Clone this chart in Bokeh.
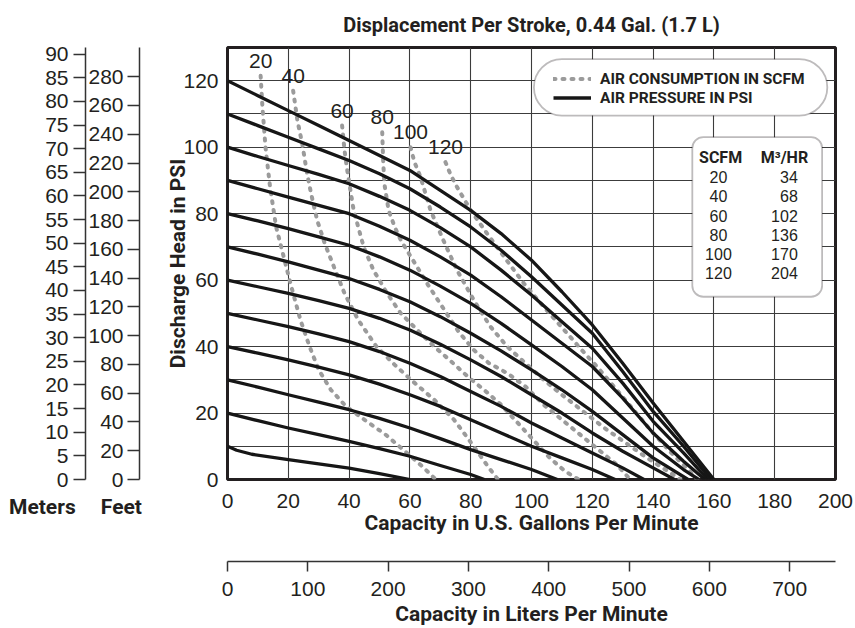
from bokeh.plotting import figure
from bokeh.models import (Range1d, LinearAxis, FixedTicker, BoxAnnotation, Label,
                          Legend, LegendItem, ColumnDataSource)
from bokeh.core.properties import value
from bokeh.embed import file_html
from bokeh.resources import INLINE

BOLD = "Roboto"
REG = "Liberation Sans"
INK = "#231f20"
GRAY = "#9b9b9b"

TITLE = "Displacement Per Stroke, 0.44 Gal. (1.7 L)"

# ---------------- tick values ----------------
gpm_ticks = [0, 20, 40, 60, 80, 100, 120, 140, 160, 180, 200]
psi_ticks = [0, 20, 40, 60, 80, 100, 120]
psi_grid = [0, 10, 20, 30, 40, 50, 60, 70, 80, 90, 100, 110, 120, 130]
feet_ticks = [0, 20, 40, 60, 80, 100, 120, 140, 160, 180, 200, 220, 240, 260, 280]
meter_ticks = [0, 5, 10, 15, 20, 25, 30, 35, 40, 45, 50, 55, 60, 65, 70, 75, 80, 85, 90]
lpm_ticks = [0, 100, 200, 300, 400, 500, 600, 700]

PSI_TO_FT = 2.31
PSI_TO_M = 0.7031
GAL_TO_L = 3.7854

# ---------------- air pressure curves (solid), GPM vs discharge PSI ----------------
p10_gpm = [0, 3, 8, 20, 30, 40, 50, 60]
p10_psi = [10, 8.8, 7.6, 6, 4.7, 3.4, 1.8, 0]
p20_gpm = [0, 10, 20, 30, 40, 50, 60, 70, 80, 84.5]
p20_psi = [20, 17.7, 15.5, 13.5, 11.5, 9.3, 7, 4.2, 1.5, 0]
p30_gpm = [0, 10, 20, 30, 40, 50, 60, 70, 80, 90, 100, 108.5]
p30_psi = [30, 27.8, 25.5, 23.3, 21, 18.4, 15.5, 12.3, 9, 6, 3, 0]
p40_gpm = [0, 10, 20, 30, 40, 50, 60, 70, 80, 90, 100, 110, 120, 127.5]
p40_psi = [40, 38, 36, 33.8, 31.5, 28.7, 25.5, 22, 18, 14, 10, 6.5, 3, 0]
p50_gpm = [0, 10, 20, 30, 40, 50, 60, 70, 80, 90, 100, 110, 120, 130, 137]
p50_psi = [50, 48, 46, 43.8, 41.5, 38.5, 35, 31, 26.5, 22, 17, 12.5, 8, 3.5, 0]
p60_gpm = [0, 10, 20, 30, 40, 50, 60, 70, 80, 90, 100, 110, 120, 130, 140, 147]
p60_psi = [60, 58, 56, 53.8, 51.5, 48.5, 45, 40.7, 36, 31, 25.5, 20, 14, 8.5, 3.5, 0]
p70_gpm = [0, 10, 20, 30, 40, 50, 60, 70, 80, 90, 100, 110, 120, 130, 140, 151.5]
p70_psi = [70, 67.8, 65.5, 63, 60.5, 57.2, 53.5, 49, 44, 38.7, 33, 27, 20.5, 13.5, 6.5, 0]
p80_gpm = [0, 10, 20, 30, 40, 50, 60, 70, 80, 90, 100, 110, 120, 130, 140, 150, 155]
p80_psi = [80, 77.8, 75.5, 73, 70.5, 67, 63, 58.2, 53, 47, 40.5, 34, 27, 18.5, 10, 3, 0]
p90_gpm = [0, 10, 20, 30, 40, 50, 60, 70, 80, 90, 100, 110, 120, 130, 140, 150, 157]
p90_psi = [90, 87.5, 85, 82.5, 80, 76.2, 72, 67, 61.5, 55, 48, 41, 34, 24.5, 14, 5.5, 0]
p100_gpm = [0, 10, 20, 30, 40, 50, 60, 70, 80, 90, 100, 110, 120, 130, 140, 150, 158]
p100_psi = [100, 97.2, 94.5, 91.8, 89, 85.2, 81, 75.8, 70, 63, 55.5, 47.5, 39.5, 29, 17.5, 8, 0]
p110_gpm = [0, 10, 20, 30, 40, 50, 60, 70, 80, 90, 100, 110, 120, 130, 140, 150, 159]
p110_psi = [110, 106.5, 103, 99.5, 96, 92, 87.5, 82, 76, 69, 61, 52.5, 44, 32.5, 20.5, 10, 0]
p120_gpm = [0, 10, 20, 30, 40, 50, 60, 70, 80, 90, 100, 110, 120, 130, 140, 150, 160]
p120_psi = [120, 115.5, 111, 106.5, 102, 97.5, 93, 87, 81, 74, 66, 56.5, 46.5, 35, 23, 11.5, 0]

# ---------------- air consumption curves (dashed), GPM vs discharge PSI ----------------
s20_gpm = [10.9, 11.5, 12.5, 14, 16, 18.5, 21, 24, 27, 30, 34, 39, 45, 52, 59, 64, 68.5]
s20_psi = [121.5, 112, 100, 88, 76, 67, 58, 48, 40, 33, 27, 22, 18, 13.5, 8, 4, 0]
s40_gpm = [21.6, 23, 24.6, 26, 27.5, 29.5, 32, 35, 38.5, 43, 49, 55, 61, 68, 74.5, 79, 82.5, 86, 89]
s40_psi = [117, 108, 101, 93, 86, 78, 71, 64, 56, 48, 40, 34.5, 29.5, 24, 18, 12.5, 8, 3.5, 0]
s60_gpm = [37.7, 38.5, 39.4, 41.5, 44.8, 48, 52.5, 57, 63.5, 68, 73, 79, 85, 90, 95, 100, 106, 111, 115.5]
s60_psi = [106.5, 99, 93, 81, 70, 63, 56, 50, 44, 40, 36, 31, 26.5, 22.5, 17.5, 12.5, 6.5, 2.5, 0]
s80_gpm = [50.9, 51.2, 51.6, 53, 55, 57, 61, 66, 71, 76, 81, 86, 92, 98, 104, 110, 116, 122, 128, 132.5]
s80_psi = [104.5, 96, 89, 81, 76, 72, 66, 58.5, 51.5, 44.5, 39, 35, 32, 28, 22.5, 18, 13.5, 9, 4.5, 0]
s100_gpm = [60.2, 61.5, 63.5, 66.8, 71, 75.5, 81, 86.5, 92, 98, 104, 110, 117, 124, 131, 138, 144, 149]
s100_psi = [100, 95.5, 91, 81, 72, 63, 54, 46, 40, 35, 30, 25.5, 20.5, 15.5, 11, 6.5, 3, 0]
s120_gpm = [71.7, 73.5, 75.5, 80, 85.4, 91, 97.5, 104, 111.7, 116, 122, 128, 134, 140, 146, 151, 154.5]
s120_psi = [95.5, 91.5, 88, 81, 74, 67, 59, 52, 44, 39.5, 33.5, 27, 20.5, 14, 8, 3.5, 0]

# ---------------- conversion table ----------------
table_scfm = [20, 40, 60, 80, 100, 120]
table_m3hr = [34, 68, 102, 136, 170, 204]

pressure_curves = [(p10_gpm, p10_psi), (p20_gpm, p20_psi), (p30_gpm, p30_psi), (p40_gpm, p40_psi),
                   (p50_gpm, p50_psi), (p60_gpm, p60_psi), (p70_gpm, p70_psi), (p80_gpm, p80_psi),
                   (p90_gpm, p90_psi), (p100_gpm, p100_psi), (p110_gpm, p110_psi), (p120_gpm, p120_psi)]
air_curves = [(s20_gpm, s20_psi), (s40_gpm, s40_psi), (s60_gpm, s60_psi),
              (s80_gpm, s80_psi), (s100_gpm, s100_psi), (s120_gpm, s120_psi)]

# ---------------- figure ----------------
p = figure(width=855, height=628, x_range=Range1d(0, 200), y_range=Range1d(0, 130),
           output_backend="svg", toolbar_location=None, title=TITLE,
           min_border_left=227, min_border_right=20, min_border_top=47, min_border_bottom=148)
p.background_fill_color = "white"
p.border_fill_color = "white"
p.outline_line_color = INK
p.outline_line_width = 3

p.title.align = "center"
p.title.text_font = BOLD
p.title.text_font_style = "bold"
p.title.text_font_size = "20px"
p.title.text_color = INK
p.title.standoff = 21

p.extra_y_ranges = {"ft": Range1d(0, 130 * PSI_TO_FT), "m": Range1d(0, 130 * PSI_TO_M)}
p.extra_x_ranges = {"L": Range1d(0, 200 * GAL_TO_L)}

# grids
p.xgrid.ticker = FixedTicker(ticks=gpm_ticks)
p.ygrid.ticker = FixedTicker(ticks=psi_grid)
for g in (p.xgrid, p.ygrid):
    g.grid_line_color = "#3c3c3c"
    g.grid_line_width = 1.1


def style_numbers(ax, size="21px"):
    ax.major_label_text_font = REG
    ax.major_label_text_font_size = size
    ax.major_label_text_color = INK
    ax.minor_tick_line_color = None


def style_title(ax):
    ax.axis_label_text_font = BOLD
    ax.axis_label_text_font_style = "bold"
    ax.axis_label_text_font_size = "21px"
    ax.axis_label_text_color = INK


def name_label(txt, gx):
    # names under the left scales; living in a side panel keeps them from being clipped
    return Label(x=gx, y=-8.4, text=txt, text_align="center", text_baseline="middle",
                 text_font=BOLD, text_font_style="bold", text_font_size="21px", text_color=INK)


# main x axis (gallons)
xa = p.xaxis[0]
xa.ticker = FixedTicker(ticks=gpm_ticks)
xa.axis_line_color = None
xa.major_tick_line_color = None
xa.major_tick_out = 0
xa.major_tick_in = 0
xa.major_label_standoff = 14
style_numbers(xa)
xa.axis_label = "Capacity in U.S. Gallons Per Minute"
xa.axis_label_standoff = 0
style_title(xa)

# main y axis (psi)
ya = p.yaxis[0]
ya.ticker = FixedTicker(ticks=psi_ticks)
ya.axis_line_color = None
ya.major_tick_line_color = None
ya.major_tick_out = 0
ya.major_tick_in = 0
ya.major_label_standoff = 9
style_numbers(ya)
ya.axis_label = "Discharge Head in PSI"
ya.axis_label_standoff = -10
style_title(ya)


def spacer(gap, at, **kw):
    # one blank white tick whose length only reserves room between stacked scales
    return LinearAxis(ticker=FixedTicker(ticks=[at]), axis_line_color=None,
                      major_tick_line_color="white", major_tick_line_width=1,
                      minor_tick_line_color=None, major_tick_out=gap, major_tick_in=0,
                      minor_tick_out=0, minor_tick_in=0, major_label_standoff=0,
                      major_label_overrides={at: ""}, major_label_text_font_size="1px", **kw)


def scale_axis(ax, ticks, tick_len, standoff):
    ax.ticker = FixedTicker(ticks=ticks)
    ax.axis_line_color = "#333333"
    ax.axis_line_width = 1.5
    ax.major_tick_line_color = "#333333"
    ax.major_tick_line_width = 1.5
    ax.major_tick_out = tick_len
    ax.major_tick_in = 0
    ax.major_label_standoff = standoff
    style_numbers(ax)


p.add_layout(spacer(24, 0), "left")

ft_axis = LinearAxis(y_range_name="ft")
scale_axis(ft_axis, feet_ticks, 12, 4)
p.add_layout(ft_axis, "left")

m_axis = LinearAxis(y_range_name="m")
scale_axis(m_axis, meter_ticks, 12, 5)
p.add_layout(m_axis, "left")

p.add_layout(name_label("Feet", -34.9), "left")

p.add_layout(name_label("Meters", -60.9), "below")

l_axis = LinearAxis(x_range_name="L")
scale_axis(l_axis, lpm_ticks, 10, 10)
l_axis.axis_label = "Capacity in Liters Per Minute"
l_axis.axis_label_standoff = 3
style_title(l_axis)
p.add_layout(l_axis, "below")

# ---------------- curves ----------------
air_renderers = []
for gx, gy in air_curves:
    r = p.line(gx, gy, line_color=GRAY, line_width=4, line_dash="2 7", line_cap="round")
    air_renderers.append(r)

press_renderers = []
for gx, gy in pressure_curves:
    r = p.line(gx, gy, line_color="#161616", line_width=3.3, line_join="round")
    press_renderers.append(r)

# SCFM labels at the top of each dashed curve
lab_src = ColumnDataSource(dict(x=[c[0][0] for c in air_curves], y=[c[1][0] for c in air_curves],
                                t=[str(v) for v in table_scfm]))
p.text(x="x", y="y", text="t", source=lab_src, y_offset=-15, text_align="center",
       text_baseline="middle", text_font=value(REG), text_font_size="21px", text_color=INK)

# ---------------- legend ----------------
p.add_layout(BoxAnnotation(left=100.8, right=197.3, bottom=109.5, top=126.5, border_radius=28,
                           fill_color="white", fill_alpha=1, line_color=INK, line_width=1.8,
                           level="underlay"))
legend = Legend(items=[LegendItem(label="AIR CONSUMPTION IN SCFM", renderers=[air_renderers[0]]),
                       LegendItem(label="AIR PRESSURE IN PSI", renderers=[press_renderers[0]])],
                location=(326, 372), orientation="vertical", glyph_width=38, glyph_height=19,
                label_height=19, spacing=0, padding=0, margin=0, label_standoff=9,
                border_line_alpha=0, background_fill_alpha=0,
                label_text_font=BOLD, label_text_font_style="bold", label_text_font_size="15.5px",
                label_text_color=INK)
p.add_layout(legend)

# ---------------- SCFM / m3/hr table ----------------
p.add_layout(BoxAnnotation(left=152.9, right=195.6, bottom=55, top=103, border_radius=11,
                           fill_color="white", fill_alpha=1, line_color=INK, line_width=1.8,
                           level="underlay"))
head_src = ColumnDataSource(dict(x=[162.2, 183.2], y=[97, 97], t=["SCFM", "M³/HR"]))
p.text(x="x", y="y", text="t", source=head_src, text_align="center", text_baseline="middle",
       text_font=value(BOLD), text_font_style="bold", text_font_size="16px", text_color=INK)
row_y = [91.0 - 5.8 * i for i in range(len(table_scfm))]
col1 = ColumnDataSource(dict(x=[161.5] * len(table_scfm), y=row_y, t=[str(v) for v in table_scfm]))
col2 = ColumnDataSource(dict(x=[187.6] * len(table_m3hr), y=row_y, t=[str(v) for v in table_m3hr]))
p.text(x="x", y="y", text="t", source=col1, text_align="center", text_baseline="middle",
       text_font=value(REG), text_font_size="16px", text_color=INK)
p.text(x="x", y="y", text="t", source=col2, text_align="right", text_baseline="middle",
       text_font=value(REG), text_font_size="16px", text_color=INK)

open("out.html", "w").write(file_html(p, INLINE))
